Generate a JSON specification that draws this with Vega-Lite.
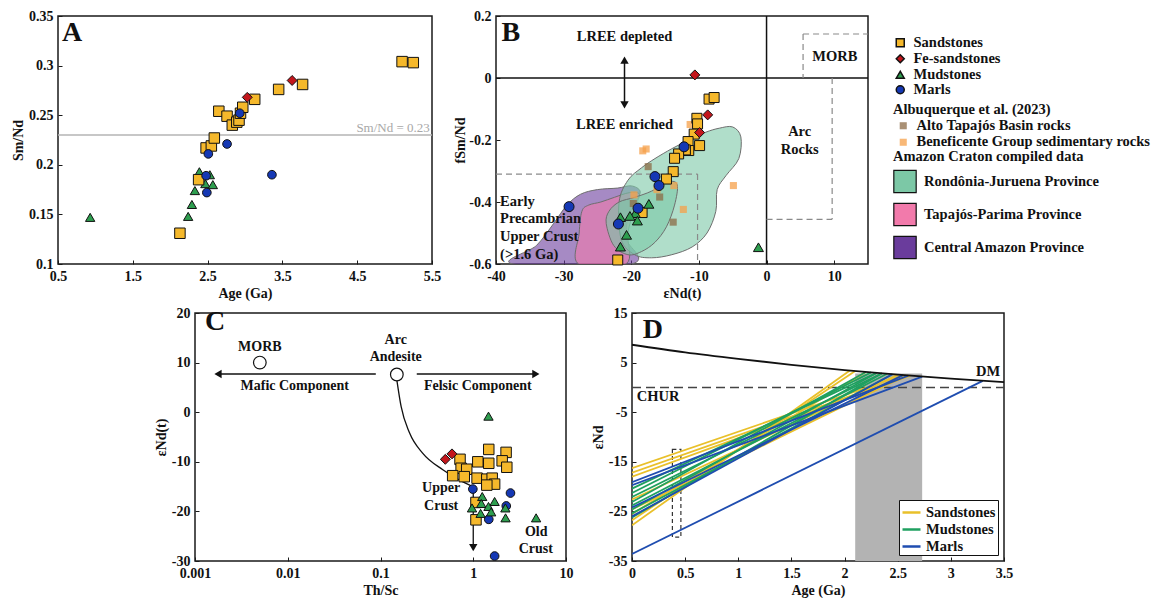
{
"$schema": "https://vega.github.io/schema/vega-lite/v6.json",
"padding": {"left": 10, "top": 8, "right": 0, "bottom": 0},
"background": "white",
"config": {
  "font": "Liberation Serif",
  "view": {"stroke": "#1a1a1a", "strokeWidth": 1.5},
  "axis": {"domain": false, "grid": false, "ticks": true, "tickSize": -4, "tickColor": "#1a1a1a", "tickWidth": 1, "labelFont": "Liberation Serif", "labelFontSize": 14, "labelFontWeight": "bold", "labelColor": "#111", "labelPadding": 9, "titleFont": "Liberation Serif", "titleFontSize": 14, "titleFontWeight": "bold", "titleColor": "#111", "titlePadding": 3, "labelExpr": "replace(datum.label, '\u2212', '-')", "labelFlush": false, "labelOverlap": false},
  "legend": {"labelFont": "Liberation Serif", "labelFontSize": 14.5, "labelFontWeight": "bold", "labelColor": "#111", "titleFont": "Liberation Serif", "titleFontSize": 14.5, "titleFontWeight": "bold", "titleColor": "#111", "labelLimit": 400, "titleLimit": 400},
  "text": {"font": "Liberation Serif", "fontWeight": "bold", "fontSize": 14, "color": "#111"}
},
"datasets": {
  "aPts": [
    {"g":"Sandstones","x":2.13,"y":0.131},{"g":"Sandstones","x":2.48,"y":0.217},{"g":"Sandstones","x":2.55,"y":0.219},{"g":"Sandstones","x":2.59,"y":0.227},{"g":"Sandstones","x":2.65,"y":0.254},{"g":"Sandstones","x":2.76,"y":0.249},{"g":"Sandstones","x":2.83,"y":0.240},{"g":"Sandstones","x":2.89,"y":0.243},{"g":"Sandstones","x":2.92,"y":0.245},{"g":"Sandstones","x":2.94,"y":0.252},{"g":"Sandstones","x":2.97,"y":0.258},{"g":"Sandstones","x":3.13,"y":0.266},{"g":"Sandstones","x":3.45,"y":0.276},{"g":"Sandstones","x":3.77,"y":0.281},{"g":"Sandstones","x":5.10,"y":0.304},{"g":"Sandstones","x":5.25,"y":0.303},
    {"g":"Fe-sandstones","x":3.03,"y":0.268},{"g":"Fe-sandstones","x":3.63,"y":0.285},
    {"g":"Mudstones","x":0.93,"y":0.147},{"g":"Mudstones","x":2.24,"y":0.148},{"g":"Mudstones","x":2.29,"y":0.160},{"g":"Mudstones","x":2.33,"y":0.174},{"g":"Mudstones","x":2.39,"y":0.193},{"g":"Mudstones","x":2.47,"y":0.181},{"g":"Mudstones","x":2.53,"y":0.190},{"g":"Mudstones","x":2.57,"y":0.180},
    {"g":"Sandstones","x":2.38,"y":0.185},
    {"g":"Marls","x":2.48,"y":0.189},{"g":"Marls","x":2.49,"y":0.172},{"g":"Marls","x":2.51,"y":0.211},{"g":"Marls","x":2.76,"y":0.221},{"g":"Marls","x":2.93,"y":0.252},{"g":"Marls","x":3.36,"y":0.190}
  ],
  "bPts": [
    {"g":"Sandstones","x":-8.5,"y":-0.068},{"g":"Sandstones","x":-7.75,"y":-0.063},{"g":"Sandstones","x":-10.3,"y":-0.130},{"g":"Sandstones","x":-10.2,"y":-0.148},{"g":"Sandstones","x":-10.7,"y":-0.181},{"g":"Sandstones","x":-9.9,"y":-0.218},{"g":"Sandstones","x":-11.6,"y":-0.205},{"g":"Sandstones","x":-11.5,"y":-0.234},{"g":"Sandstones","x":-12.0,"y":-0.232},{"g":"Sandstones","x":-13.0,"y":-0.245},{"g":"Sandstones","x":-13.6,"y":-0.259},{"g":"Sandstones","x":-13.8,"y":-0.302},{"g":"Sandstones","x":-14.8,"y":-0.326},{"g":"Sandstones","x":-18.4,"y":-0.434},{"g":"Sandstones","x":-22.0,"y":-0.587},
    {"g":"Fe-sandstones","x":-10.6,"y":0.010},{"g":"Fe-sandstones","x":-8.7,"y":-0.119},{"g":"Fe-sandstones","x":-9.9,"y":-0.176},
    {"g":"Mudstones","x":-17.4,"y":-0.406},{"g":"Mudstones","x":-19.4,"y":-0.436},{"g":"Mudstones","x":-20.2,"y":-0.445},{"g":"Mudstones","x":-21.6,"y":-0.449},{"g":"Mudstones","x":-19.1,"y":-0.460},{"g":"Mudstones","x":-20.7,"y":-0.506},{"g":"Mudstones","x":-21.6,"y":-0.544},{"g":"Mudstones","x":-1.2,"y":-0.546},
    {"g":"Marls","x":-12.2,"y":-0.222},{"g":"Marls","x":-16.5,"y":-0.318},{"g":"Marls","x":-15.9,"y":-0.347},{"g":"Marls","x":-29.2,"y":-0.415},{"g":"Marls","x":-19.0,"y":-0.420},{"g":"Marls","x":-21.9,"y":-0.471}
  ],
  "albq": [
    {"r":"Beneficente Group sedimentary rocks","x":-18.3,"y":-0.235},{"r":"Beneficente Group sedimentary rocks","x":-17.8,"y":-0.229},{"r":"Beneficente Group sedimentary rocks","x":-11.3,"y":-0.150},{"r":"Beneficente Group sedimentary rocks","x":-13.7,"y":-0.347},{"r":"Beneficente Group sedimentary rocks","x":-16.2,"y":-0.360},{"r":"Beneficente Group sedimentary rocks","x":-19.6,"y":-0.377},{"r":"Beneficente Group sedimentary rocks","x":-4.9,"y":-0.347},{"r":"Beneficente Group sedimentary rocks","x":-12.3,"y":-0.424},
    {"r":"Alto Tapajós Basin rocks","x":-17.5,"y":-0.286},{"r":"Alto Tapajós Basin rocks","x":-15.8,"y":-0.384},{"r":"Alto Tapajós Basin rocks","x":-13.8,"y":-0.465},{"r":"Alto Tapajós Basin rocks","x":-19.7,"y":-0.405}
  ],
  "poly": [
    {"p":"Central Amazon Province","id":"ca","i":1,"x":-37.5,"y":-0.6},{"p":"Central Amazon Province","id":"ca","i":2,"x":-34,"y":-0.54},{"p":"Central Amazon Province","id":"ca","i":3,"x":-31.5,"y":-0.47},{"p":"Central Amazon Province","id":"ca","i":4,"x":-29.5,"y":-0.41},{"p":"Central Amazon Province","id":"ca","i":5,"x":-27.5,"y":-0.375},{"p":"Central Amazon Province","id":"ca","i":6,"x":-25,"y":-0.36},{"p":"Central Amazon Province","id":"ca","i":7,"x":-22,"y":-0.355},{"p":"Central Amazon Province","id":"ca","i":8,"x":-20,"y":-0.348},{"p":"Central Amazon Province","id":"ca","i":9,"x":-18.7,"y":-0.365},{"p":"Central Amazon Province","id":"ca","i":10,"x":-19.3,"y":-0.40},{"p":"Central Amazon Province","id":"ca","i":11,"x":-20.5,"y":-0.45},{"p":"Central Amazon Province","id":"ca","i":12,"x":-20.7,"y":-0.52},{"p":"Central Amazon Province","id":"ca","i":13,"x":-20,"y":-0.6},
    {"p":"Tapajós-Parima Province","id":"tp","i":1,"x":-27.8,"y":-0.6},{"p":"Tapajós-Parima Province","id":"tp","i":2,"x":-27.7,"y":-0.5},{"p":"Tapajós-Parima Province","id":"tp","i":3,"x":-27.3,"y":-0.43},{"p":"Tapajós-Parima Province","id":"tp","i":4,"x":-26.3,"y":-0.41},{"p":"Tapajós-Parima Province","id":"tp","i":5,"x":-24.5,"y":-0.40},{"p":"Tapajós-Parima Province","id":"tp","i":6,"x":-22.5,"y":-0.385},{"p":"Tapajós-Parima Province","id":"tp","i":7,"x":-20.3,"y":-0.37},{"p":"Tapajós-Parima Province","id":"tp","i":8,"x":-18.8,"y":-0.375},{"p":"Tapajós-Parima Province","id":"tp","i":9,"x":-19.5,"y":-0.42},{"p":"Tapajós-Parima Province","id":"tp","i":10,"x":-20.5,"y":-0.5},{"p":"Tapajós-Parima Province","id":"tp","i":11,"x":-20.8,"y":-0.6},
    {"p":"Rondônia-Juruena Province","id":"rj1","i":1,"x":-21.8,"y":-0.40},{"p":"Rondônia-Juruena Province","id":"rj1","i":2,"x":-20.5,"y":-0.33},{"p":"Rondônia-Juruena Province","id":"rj1","i":3,"x":-18.5,"y":-0.29},{"p":"Rondônia-Juruena Province","id":"rj1","i":4,"x":-16.5,"y":-0.26},{"p":"Rondônia-Juruena Province","id":"rj1","i":5,"x":-14,"y":-0.228},{"p":"Rondônia-Juruena Province","id":"rj1","i":6,"x":-11.5,"y":-0.20},{"p":"Rondônia-Juruena Province","id":"rj1","i":7,"x":-9,"y":-0.175},{"p":"Rondônia-Juruena Province","id":"rj1","i":8,"x":-7,"y":-0.162},{"p":"Rondônia-Juruena Province","id":"rj1","i":9,"x":-5,"y":-0.158},{"p":"Rondônia-Juruena Province","id":"rj1","i":10,"x":-3.8,"y":-0.19},{"p":"Rondônia-Juruena Province","id":"rj1","i":11,"x":-4.1,"y":-0.26},{"p":"Rondônia-Juruena Province","id":"rj1","i":12,"x":-6,"y":-0.315},{"p":"Rondônia-Juruena Province","id":"rj1","i":13,"x":-7.3,"y":-0.36},{"p":"Rondônia-Juruena Province","id":"rj1","i":14,"x":-7.5,"y":-0.43},{"p":"Rondônia-Juruena Province","id":"rj1","i":15,"x":-8.8,"y":-0.50},{"p":"Rondônia-Juruena Province","id":"rj1","i":16,"x":-11,"y":-0.545},{"p":"Rondônia-Juruena Province","id":"rj1","i":17,"x":-14,"y":-0.57},{"p":"Rondônia-Juruena Province","id":"rj1","i":18,"x":-17,"y":-0.58},{"p":"Rondônia-Juruena Province","id":"rj1","i":19,"x":-19.5,"y":-0.57},{"p":"Rondônia-Juruena Province","id":"rj1","i":20,"x":-21.5,"y":-0.52},
    {"p":"Rondônia-Juruena Province","id":"rj2","i":1,"x":-23.7,"y":-0.47},{"p":"Rondônia-Juruena Province","id":"rj2","i":2,"x":-23.3,"y":-0.43},{"p":"Rondônia-Juruena Province","id":"rj2","i":3,"x":-21.8,"y":-0.40},{"p":"Rondônia-Juruena Province","id":"rj2","i":4,"x":-19.5,"y":-0.385},{"p":"Rondônia-Juruena Province","id":"rj2","i":5,"x":-17,"y":-0.365},{"p":"Rondônia-Juruena Province","id":"rj2","i":6,"x":-14.5,"y":-0.335},{"p":"Rondônia-Juruena Province","id":"rj2","i":7,"x":-13.2,"y":-0.345},{"p":"Rondônia-Juruena Province","id":"rj2","i":8,"x":-13.6,"y":-0.41},{"p":"Rondônia-Juruena Province","id":"rj2","i":9,"x":-14.8,"y":-0.48},{"p":"Rondônia-Juruena Province","id":"rj2","i":10,"x":-16.5,"y":-0.53},{"p":"Rondônia-Juruena Province","id":"rj2","i":11,"x":-18.5,"y":-0.56},{"p":"Rondônia-Juruena Province","id":"rj2","i":12,"x":-20.5,"y":-0.57},{"p":"Rondônia-Juruena Province","id":"rj2","i":13,"x":-22.6,"y":-0.54}
  ],
  "cPts": [
    {"g":"Marls","x":0.99,"y":-15.5},
    {"g":"Sandstones","x":0.72,"y":-9.5},{"g":"Sandstones","x":0.74,"y":-11.3},{"g":"Sandstones","x":0.85,"y":-11.5},{"g":"Sandstones","x":0.60,"y":-12.8},{"g":"Sandstones","x":0.80,"y":-13.0},{"g":"Sandstones","x":1.12,"y":-10.0},{"g":"Sandstones","x":1.47,"y":-7.5},{"g":"Sandstones","x":1.47,"y":-10.3},{"g":"Sandstones","x":2.26,"y":-8.1},{"g":"Sandstones","x":2.05,"y":-9.8},{"g":"Sandstones","x":2.30,"y":-11.1},{"g":"Sandstones","x":1.10,"y":-13.3},{"g":"Sandstones","x":1.40,"y":-13.5},{"g":"Sandstones","x":1.60,"y":-13.3},{"g":"Sandstones","x":1.70,"y":-14.5},{"g":"Sandstones","x":1.40,"y":-14.7},{"g":"Sandstones","x":1.07,"y":-18.2},{"g":"Sandstones","x":1.07,"y":-21.7},
    {"g":"Fe-sandstones","x":0.50,"y":-9.5},{"g":"Fe-sandstones","x":0.59,"y":-8.4},
    {"g":"Marls","x":2.52,"y":-16.3},{"g":"Marls","x":2.27,"y":-18.9},{"g":"Marls","x":1.47,"y":-21.6},{"g":"Marls","x":1.70,"y":-29.0},
    {"g":"Mudstones","x":1.46,"y":-0.8},{"g":"Mudstones","x":1.25,"y":-17.0},{"g":"Mudstones","x":1.22,"y":-18.4},{"g":"Mudstones","x":0.97,"y":-19.3},{"g":"Mudstones","x":1.46,"y":-19.0},{"g":"Mudstones","x":1.70,"y":-18.0},{"g":"Mudstones","x":1.20,"y":-20.4},{"g":"Mudstones","x":1.56,"y":-20.1},{"g":"Mudstones","x":2.23,"y":-21.3},{"g":"Mudstones","x":2.22,"y":-19.3},{"g":"Mudstones","x":4.76,"y":-21.3}
  ],
  "dLines": [
    {"s":"Sandstones","id":"s1","x":0,"y":-16.3},{"s":"Sandstones","id":"s1","x":2.55,"y":2.48},
    {"s":"Sandstones","id":"s2","x":0,"y":-17.2},{"s":"Sandstones","id":"s2","x":2.6,"y":2.39},
    {"s":"Sandstones","id":"s3","x":0,"y":-18.0},{"s":"Sandstones","id":"s3","x":2.62,"y":2.36},
    {"s":"Sandstones","id":"s4","x":0,"y":-27.8},{"s":"Sandstones","id":"s4","x":2.05,"y":3.40},
    {"s":"Sandstones","id":"s5","x":0,"y":-26.8},{"s":"Sandstones","id":"s5","x":2.1,"y":3.30},
    {"s":"Sandstones","id":"s6","x":0,"y":-25.5},{"s":"Sandstones","id":"s6","x":2.2,"y":3.11},
    {"s":"Sandstones","id":"s7","x":0,"y":-22.6},{"s":"Sandstones","id":"s7","x":2.5,"y":2.56},
    {"s":"Sandstones","id":"s8","x":0,"y":-24.6},{"s":"Sandstones","id":"s8","x":2.58,"y":2.42},
    {"s":"Mudstones","id":"m1","x":0,"y":-20.4},{"s":"Mudstones","id":"m1","x":2.3,"y":2.92},
    {"s":"Mudstones","id":"m2","x":0,"y":-21.3},{"s":"Mudstones","id":"m2","x":2.25,"y":3.02},
    {"s":"Mudstones","id":"m3","x":0,"y":-22.1},{"s":"Mudstones","id":"m3","x":2.35,"y":2.83},
    {"s":"Mudstones","id":"m4","x":0,"y":-23.1},{"s":"Mudstones","id":"m4","x":2.2,"y":3.11},
    {"s":"Mudstones","id":"m5","x":0,"y":-23.8},{"s":"Mudstones","id":"m5","x":2.4,"y":2.74},
    {"s":"Mudstones","id":"m6","x":0,"y":-24.6},{"s":"Mudstones","id":"m6","x":2.3,"y":2.92},
    {"s":"Mudstones","id":"m7","x":0,"y":-25.4},{"s":"Mudstones","id":"m7","x":2.45,"y":2.65},
    {"s":"Mudstones","id":"m8","x":0,"y":-26.2},{"s":"Mudstones","id":"m8","x":2.35,"y":2.83},
    {"s":"Marls","id":"b1","x":0,"y":-19.1},{"s":"Marls","id":"b1","x":2.6,"y":2.39},
    {"s":"Marls","id":"b2","x":0,"y":-19.7},{"s":"Marls","id":"b2","x":2.73,"y":2.17},
    {"s":"Marls","id":"b3","x":0,"y":-24.2},{"s":"Marls","id":"b3","x":2.55,"y":2.48},
    {"s":"Marls","id":"b4","x":0,"y":-26.0},{"s":"Marls","id":"b4","x":2.45,"y":2.65},
    {"s":"Marls","id":"b5","x":0,"y":-33.6},{"s":"Marls","id":"b5","x":3.3,"y":1.32}
  ],
  "dm": [{"x":0,"y":8.6},{"x":0.5,"y":7.06},{"x":1,"y":5.75},{"x":1.5,"y":4.56},{"x":2,"y":3.5},{"x":2.5,"y":2.56},{"x":3,"y":1.75},{"x":3.5,"y":1.06}]
},
"resolve": {"scale": {"fill": "independent", "shape": "independent", "size": "independent", "stroke": "independent"}},
"spacing": 4,
"vconcat": [
 {
  "hconcat": [
   {
    "width": 374, "height": 248,
    "layer": [
     {"data": {"values": [{"y": 0.23}]}, "mark": {"type": "rule", "color": "#b5b5b5", "strokeWidth": 1.5},
      "encoding": {"y": {"field": "y", "type": "quantitative", "scale": {"domain": [0.1, 0.35], "nice": false, "zero": false}}}},
     {"data": {"values": [{"t": "Sm/Nd = 0.23", "x": 4.98, "y": 0.237}]}, "mark": {"type": "text", "color": "#a8a8a8", "fontSize": 13, "fontWeight": "normal"},
      "encoding": {"x": {"field": "x", "type": "quantitative"}, "y": {"field": "y", "type": "quantitative"}, "text": {"field": "t"}}},
     {"data": {"values": [{"t": "A", "x": 0.69, "y": 0.333}]}, "mark": {"type": "text", "fontSize": 28},
      "encoding": {"x": {"field": "x", "type": "quantitative"}, "y": {"field": "y", "type": "quantitative"}, "text": {"field": "t"}}},
     {"data": {"name": "aPts"}, "mark": {"type": "point", "filled": true, "stroke": "#111", "strokeWidth": 1, "opacity": 1},
      "encoding": {
        "x": {"field": "x", "type": "quantitative", "scale": {"domain": [0.5, 5.5], "nice": false, "zero": false}, "axis": {"title": "Age (Ga)", "values": [0.5,1,1.5,2,2.5,3,3.5,4,4.5,5,5.5], "format": ".1~f"}},
        "y": {"field": "y", "type": "quantitative", "scale": {"domain": [0.1, 0.35], "nice": false, "zero": false}, "axis": {"title": "Sm/Nd", "values": [0.1,0.15,0.2,0.25,0.3,0.35], "format": ".2~f"}},
        "shape": {"field": "g", "type": "nominal", "scale": {"domain": ["Sandstones","Fe-sandstones","Mudstones","Marls"], "range": ["square","diamond","triangle-up","circle"]}, "legend": null},
        "fill": {"field": "g", "type": "nominal", "scale": {"domain": ["Sandstones","Fe-sandstones","Mudstones","Marls"], "range": ["#F5B82B","#C3161C","#2E9E4F","#1538B4"]}, "legend": null},
        "size": {"field": "g", "type": "nominal", "scale": {"domain": ["Sandstones","Fe-sandstones","Mudstones","Marls"], "range": [110, 75, 100, 100]}, "legend": null}
      }}
    ]
   },
   {
    "width": 372, "height": 248,
    "resolve": {"scale": {"fill": "independent", "shape": "independent", "size": "independent"}},
    "layer": [
     {"data": {"name": "poly"}, "mark": {"type": "line", "interpolate": "cardinal-closed", "fillOpacity": 0.6, "stroke": "#6e6e6e", "strokeWidth": 1, "clip": true},
      "encoding": {
        "x": {"field": "x", "type": "quantitative", "scale": {"domain": [-40, 15], "nice": false, "zero": false}, "axis": {"title": "εNd(t)", "values": [-40,-30,-20,-10,0,10], "format": "d"}},
        "y": {"field": "y", "type": "quantitative", "scale": {"domain": [-0.6, 0.2], "nice": false, "zero": false}, "axis": {"title": "fSm/Nd", "values": [-0.6,-0.4,-0.2,0,0.2], "format": ".1~f", "titlePadding": 1}},
        "detail": {"field": "id"},
        "order": {"field": "i", "type": "quantitative"},
        "fill": {"field": "p", "type": "nominal", "scale": {"domain": ["Rondônia-Juruena Province","Tapajós-Parima Province","Central Amazon Province"], "range": ["#7CC8A6","#F27AAB","#6A3C9C"]},
                 "legend": {"title": "Amazon Craton compiled data", "orient": "none", "legendX": 397, "legendY": 134, "symbolType": "square", "symbolSize": 500, "symbolStrokeColor": "#111", "symbolStrokeWidth": 1.2, "symbolOpacity": 1, "labelOffset": 7, "rowPadding": 5, "padding": 0, "titlePadding": 5}}
      }},
     {"data": {"values": [{"x": -40, "x2": 15, "y": 0, "y2": 0}, {"x": 0, "x2": 0, "y": -0.6, "y2": 0.2}]}, "mark": {"type": "rule", "color": "#111", "strokeWidth": 1.5},
      "encoding": {"x": {"field": "x", "type": "quantitative"}, "x2": {"field": "x2"}, "y": {"field": "y", "type": "quantitative"}, "y2": {"field": "y2"}}},
     {"data": {"values": [{"x": -40, "x2": -10.2, "y": -0.31, "y2": -0.31}, {"x": -10.2, "x2": -10.2, "y": -0.31, "y2": -0.6}, {"x": 5.4, "x2": 15, "y": 0.142, "y2": 0.142}, {"x": 5.4, "x2": 5.4, "y": 0.142, "y2": 0}, {"x": 9.7, "x2": 9.7, "y": 0, "y2": -0.456}, {"x": 0, "x2": 9.7, "y": -0.456, "y2": -0.456}]},
      "mark": {"type": "rule", "color": "#8a8a8a", "strokeWidth": 1.2, "strokeDash": [6, 4]},
      "encoding": {"x": {"field": "x", "type": "quantitative"}, "x2": {"field": "x2"}, "y": {"field": "y", "type": "quantitative"}, "y2": {"field": "y2"}}},
     {"data": {"values": [{"x": -21, "y": 0.055, "y2": -0.084}]}, "mark": {"type": "rule", "color": "#111", "strokeWidth": 1.5},
      "encoding": {"x": {"field": "x", "type": "quantitative"}, "y": {"field": "y", "type": "quantitative"}, "y2": {"field": "y2"}}},
     {"data": {"values": [{"x": -21, "y": 0.058}]}, "mark": {"type": "point", "shape": "triangle-up", "filled": true, "color": "#111", "size": 70, "opacity": 1},
      "encoding": {"x": {"field": "x", "type": "quantitative"}, "y": {"field": "y", "type": "quantitative"}}},
     {"data": {"values": [{"x": -21, "y": -0.087}]}, "mark": {"type": "point", "shape": "triangle-down", "filled": true, "color": "#111", "size": 70, "opacity": 1},
      "encoding": {"x": {"field": "x", "type": "quantitative"}, "y": {"field": "y", "type": "quantitative"}}},
     {"data": {"values": [{"t": "B", "x": -37.8, "y": 0.145}]}, "mark": {"type": "text", "fontSize": 28},
      "encoding": {"x": {"field": "x", "type": "quantitative"}, "y": {"field": "y", "type": "quantitative"}, "text": {"field": "t"}}},
     {"data": {"values": [{"t": "LREE depleted", "x": -21, "y": 0.131}, {"t": "LREE enriched", "x": -21, "y": -0.152}, {"t": "MORB", "x": 10.1, "y": 0.067}, {"t": "Arc", "x": 4.9, "y": -0.174}, {"t": "Rocks", "x": 4.9, "y": -0.232}]},
      "mark": {"type": "text", "fontSize": 14.5},
      "encoding": {"x": {"field": "x", "type": "quantitative"}, "y": {"field": "y", "type": "quantitative"}, "text": {"field": "t"}}},
     {"data": {"values": [{"t": "Early", "x": -39.4, "y": -0.399}, {"t": "Precambrian", "x": -39.4, "y": -0.456}, {"t": "Upper Crust", "x": -39.4, "y": -0.514}, {"t": "(>1.6 Ga)", "x": -39.4, "y": -0.571}]},
      "mark": {"type": "text", "fontSize": 14.5, "align": "left"},
      "encoding": {"x": {"field": "x", "type": "quantitative"}, "y": {"field": "y", "type": "quantitative"}, "text": {"field": "t"}}},
     {"data": {"name": "albq"}, "mark": {"type": "square", "size": 50, "opacity": 0.75},
      "encoding": {"x": {"field": "x", "type": "quantitative"}, "y": {"field": "y", "type": "quantitative"},
        "fill": {"field": "r", "type": "nominal", "scale": {"domain": ["Alto Tapajós Basin rocks", "Beneficente Group sedimentary rocks"], "range": ["#8C6B45", "#F5A04A"]},
                 "legend": {"title": "Albuquerque et al. (2023)", "orient": "none", "legendX": 397, "legendY": 87, "symbolSize": 50, "symbolOffset": 3, "labelOffset": 6, "rowPadding": 1.5, "padding": 0, "titlePadding": 1}}}},
     {"data": {"name": "bPts"}, "mark": {"type": "point", "filled": true, "stroke": "#111", "strokeWidth": 1, "opacity": 1, "size": 100},
      "encoding": {
        "x": {"field": "x", "type": "quantitative"}, "y": {"field": "y", "type": "quantitative"},
        "shape": {"field": "g", "type": "nominal", "scale": {"domain": ["Sandstones","Fe-sandstones","Mudstones","Marls"], "range": ["square","diamond","triangle-up","circle"]},
                  "legend": {"title": null, "orient": "none", "legendX": 397, "legendY": 19.5, "symbolSize": 64, "labelOffset": 6, "rowPadding": 0, "padding": 0}},
        "fill": {"field": "g", "type": "nominal", "scale": {"domain": ["Sandstones","Fe-sandstones","Mudstones","Marls"], "range": ["#F5B82B","#C3161C","#2E9E4F","#1538B4"]},
                 "legend": {"title": null, "orient": "none", "legendX": 397, "legendY": 19.5, "symbolSize": 64, "labelOffset": 6, "rowPadding": 0, "padding": 0}}
      }}
    ]
   }
  ],
  "spacing": 64,
  "bounds": "flush",
  "resolve": {"scale": {"fill": "independent", "shape": "independent", "size": "independent", "stroke": "independent"}}
 },
 {
  "hconcat": [
   {"width": 71, "height": 248, "view": {"stroke": null}, "data": {"values": []}, "mark": "point"},
   {
    "width": 371, "height": 248,
    "layer": [
     {"data": {"values": [{"x": 0.089, "x2": 0.00177, "y": 7.7, "y2": 7.7}, {"x": 0.246, "x2": 4.73, "y": 7.7, "y2": 7.7}, {"x": 1, "x2": 1, "y": -15, "y2": -27.3}]},
      "mark": {"type": "rule", "color": "#111", "strokeWidth": 1.3},
      "encoding": {
        "x": {"field": "x", "type": "quantitative", "scale": {"type": "log", "domain": [0.001, 10], "nice": false}, "axis": {"title": "Th/Sc", "values": [0.001, 0.01, 0.1, 1, 10], "format": "~g"}},
        "x2": {"field": "x2"},
        "y": {"field": "y", "type": "quantitative", "scale": {"domain": [-30, 20], "nice": false, "zero": false}, "axis": {"title": "εNd(t)", "values": [-30,-20,-10,0,10,20], "format": "d"}},
        "y2": {"field": "y2"}}},
     {"data": {"values": [{"x": 0.00177, "y": 7.7}]}, "mark": {"type": "point", "shape": "triangle-left", "filled": true, "color": "#111", "size": 70, "opacity": 1},
      "encoding": {"x": {"field": "x", "type": "quantitative"}, "y": {"field": "y", "type": "quantitative"}}},
     {"data": {"values": [{"x": 4.73, "y": 7.7}]}, "mark": {"type": "point", "shape": "triangle-right", "filled": true, "color": "#111", "size": 70, "opacity": 1},
      "encoding": {"x": {"field": "x", "type": "quantitative"}, "y": {"field": "y", "type": "quantitative"}}},
     {"data": {"values": [{"x": 1, "y": -27.3}]}, "mark": {"type": "point", "shape": "triangle-down", "filled": true, "color": "#111", "size": 70, "opacity": 1},
      "encoding": {"x": {"field": "x", "type": "quantitative"}, "y": {"field": "y", "type": "quantitative"}}},
     {"data": {"values": [{"x": 0.15, "y": 6.5}, {"x": 0.167, "y": 1.1}, {"x": 0.206, "y": -4.2}, {"x": 0.286, "y": -8.3}, {"x": 0.47, "y": -11.6}, {"x": 0.71, "y": -13.7}, {"x": 0.99, "y": -15}]},
      "mark": {"type": "line", "color": "#111", "strokeWidth": 1.3, "interpolate": "monotone"},
      "encoding": {"x": {"field": "x", "type": "quantitative"}, "y": {"field": "y", "type": "quantitative"}}},
     {"data": {"values": [{"x": 0.005, "y": 10}, {"x": 0.15, "y": 7.6}]}, "mark": {"type": "point", "shape": "circle", "filled": true, "fill": "white", "stroke": "#111", "strokeWidth": 1.2, "size": 160, "opacity": 1},
      "encoding": {"x": {"field": "x", "type": "quantitative"}, "y": {"field": "y", "type": "quantitative"}}},
     {"data": {"values": [{"t": "C", "x": 0.00165, "y": 18.2}]}, "mark": {"type": "text", "fontSize": 28},
      "encoding": {"x": {"field": "x", "type": "quantitative"}, "y": {"field": "y", "type": "quantitative"}, "text": {"field": "t"}}},
     {"data": {"values": [{"t": "MORB", "x": 0.005, "y": 13.1}, {"t": "Arc", "x": 0.146, "y": 14.5}, {"t": "Andesite", "x": 0.146, "y": 11.1}, {"t": "Mafic Component", "x": 0.0119, "y": 5.2}, {"t": "Felsic Component", "x": 1.12, "y": 5.2}, {"t": "Upper", "x": 0.451, "y": -15.3}, {"t": "Crust", "x": 0.451, "y": -18.9}, {"t": "Old", "x": 4.77, "y": -24.1}, {"t": "Crust", "x": 4.72, "y": -27.6}]},
      "mark": {"type": "text", "fontSize": 14},
      "encoding": {"x": {"field": "x", "type": "quantitative"}, "y": {"field": "y", "type": "quantitative"}, "text": {"field": "t"}}},
     {"data": {"name": "cPts"}, "mark": {"type": "point", "filled": true, "stroke": "#111", "strokeWidth": 1, "opacity": 1},
      "encoding": {
        "x": {"field": "x", "type": "quantitative"}, "y": {"field": "y", "type": "quantitative"},
        "shape": {"field": "g", "type": "nominal", "scale": {"domain": ["Sandstones","Fe-sandstones","Mudstones","Marls"], "range": ["square","diamond","triangle-up","circle"]}, "legend": null},
        "fill": {"field": "g", "type": "nominal", "scale": {"domain": ["Sandstones","Fe-sandstones","Mudstones","Marls"], "range": ["#F5B82B","#C3161C","#2E9E4F","#1538B4"]}, "legend": null},
        "size": {"field": "g", "type": "nominal", "scale": {"domain": ["Sandstones","Fe-sandstones","Mudstones","Marls"], "range": [110, 75, 100, 100]}, "legend": null}
      }}
    ]
   },
   {
    "width": 372, "height": 248,
    "layer": [
     {"data": {"values": [{"x": 2.1, "x2": 2.73, "y": -35, "y2": 2.8}]}, "mark": {"type": "rect", "color": "#b3b3b3"},
      "encoding": {
        "x": {"field": "x", "type": "quantitative", "scale": {"domain": [0, 3.5], "nice": false, "zero": false}, "axis": {"title": "Age (Ga)", "values": [0,0.5,1,1.5,2,2.5,3,3.5], "format": ".1~f"}},
        "x2": {"field": "x2"},
        "y": {"field": "y", "type": "quantitative", "scale": {"domain": [-35, 15], "nice": false, "zero": false}, "axis": {"title": "εNd", "values": [-35,-25,-15,-5,5,15], "format": "d"}},
        "y2": {"field": "y2"}}},
     {"data": {"values": [{"x": 0, "x2": 3.5, "y": 0, "y2": 0}]}, "mark": {"type": "rule", "color": "#444", "strokeWidth": 1.5, "strokeDash": [9, 5]},
      "encoding": {"x": {"field": "x", "type": "quantitative"}, "x2": {"field": "x2"}, "y": {"field": "y", "type": "quantitative"}}},
     {"data": {"values": [{"x": 0.38, "x2": 0.46, "y": -30.2, "y2": -12.5}]}, "mark": {"type": "rect", "filled": false, "stroke": "#333", "strokeWidth": 1.2, "strokeDash": [4, 3]},
      "encoding": {"x": {"field": "x", "type": "quantitative"}, "x2": {"field": "x2"}, "y": {"field": "y", "type": "quantitative"}, "y2": {"field": "y2"}}},
     {"data": {"name": "dLines"}, "mark": {"type": "line", "strokeWidth": 1.8, "clip": true},
      "encoding": {"x": {"field": "x", "type": "quantitative"}, "y": {"field": "y", "type": "quantitative"}, "detail": {"field": "id"},
        "stroke": {"field": "s", "type": "nominal", "scale": {"domain": ["Sandstones", "Mudstones", "Marls"], "range": ["#E9C02A", "#1FA060", "#1F4DB0"]},
                   "legend": {"title": null, "orient": "bottom-right", "offset": 6, "strokeColor": "#111", "fillColor": "white", "padding": 2, "symbolType": "stroke", "symbolSize": 324, "symbolStrokeWidth": 2.5, "labelOffset": 4, "rowPadding": -1.5}}}},
     {"data": {"name": "dm"}, "mark": {"type": "line", "color": "#111", "strokeWidth": 1.8, "interpolate": "monotone"},
      "encoding": {"x": {"field": "x", "type": "quantitative"}, "y": {"field": "y", "type": "quantitative"}}},
     {"data": {"values": [{"t": "D", "x": 0.196, "y": 11.5}]}, "mark": {"type": "text", "fontSize": 28},
      "encoding": {"x": {"field": "x", "type": "quantitative"}, "y": {"field": "y", "type": "quantitative"}, "text": {"field": "t"}}},
     {"data": {"values": [{"t": "CHUR", "x": 0.044, "y": -1.9}]}, "mark": {"type": "text", "fontSize": 14.5, "align": "left"},
      "encoding": {"x": {"field": "x", "type": "quantitative"}, "y": {"field": "y", "type": "quantitative"}, "text": {"field": "t"}}},
     {"data": {"values": [{"t": "DM", "x": 3.35, "y": 3.2}]}, "mark": {"type": "text", "fontSize": 14.5},
      "encoding": {"x": {"field": "x", "type": "quantitative"}, "y": {"field": "y", "type": "quantitative"}, "text": {"field": "t"}}}
    ]
   }
  ],
  "spacing": 66,
  "bounds": "flush",
  "resolve": {"scale": {"fill": "independent", "shape": "independent", "size": "independent", "stroke": "independent"}}
 }
]
}
